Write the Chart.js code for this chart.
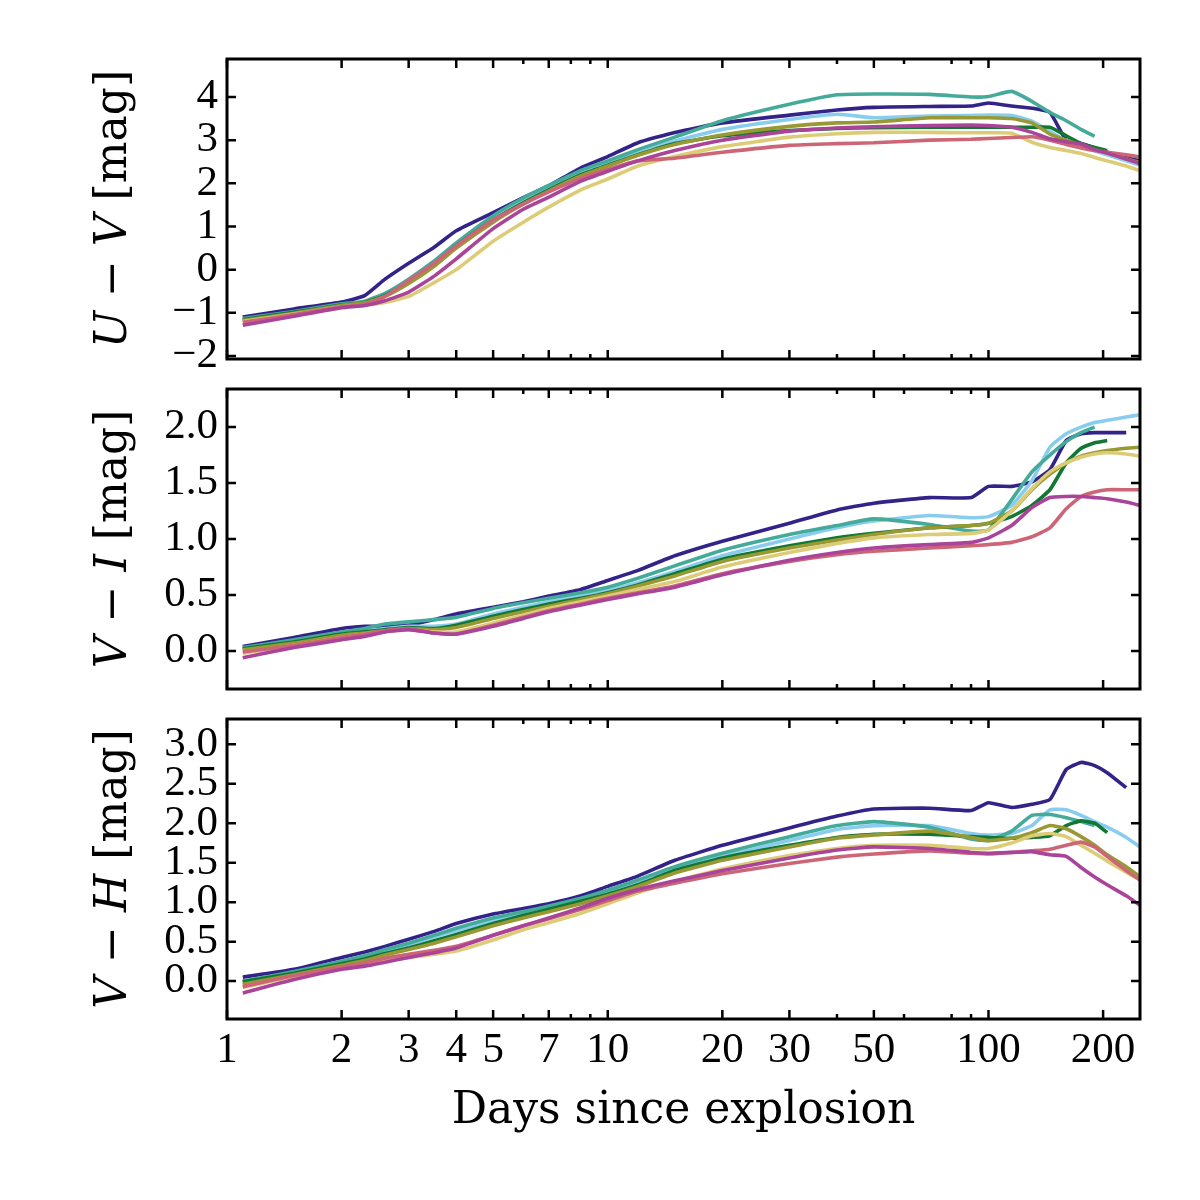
<!DOCTYPE html>
<html>
<head>
<meta charset="utf-8">
<script src="https://cdn.jsdelivr.net/npm/chart.js@4.4.1/dist/chart.umd.min.js"></script>
<style>
  html, body { margin: 0; padding: 0; background: #fff; }
  #wrap { position: relative; width: 1200px; height: 1200px; }
  #wrap canvas { position: absolute; left: 0; top: 0; }
</style>
</head>
<body>
<div id="wrap">
  <canvas id="uv" width="1200" height="1200"></canvas>
  <canvas id="vi" width="1200" height="1200"></canvas>
  <canvas id="vh" width="1200" height="1200"></canvas>
</div>
<script>
// Colour evolution of the models: U-V, V-I and V-H against days since explosion

// shared day grid (log x axis)
const days = [1.1, 1.5, 2, 2.3, 2.6, 3, 3.5, 4, 5, 6, 7, 8.5, 10, 12, 15, 20, 30, 40, 50, 70, 90, 100, 115, 130, 145, 160, 175, 190, 205, 230, 250];

const xMajor = [1, 2, 3, 4, 5, 7, 10, 20, 30, 50, 100, 200];
const xMinor = [6, 8, 9, 40, 60, 80, 90];

// one colour per model, drawn in this order (last on top)
const colors = ["#332288", "#88CCEE", "#44AA99", "#117733", "#999933", "#DDCC77", "#CC6677", "#AA4499"];

// U - V
const uvNavy   = [-1.10,-0.91,-0.75,-0.60,-0.22,0.15,0.52,0.90,1.32,1.67,1.94,2.36,2.62,2.94,3.18,3.40,3.58,3.70,3.76,3.78,3.79,3.86,3.79,3.74,3.64,3.00,2.92,2.82,2.72,2.60,2.52];
const uvLight  = [-1.17,-1.00,-0.82,-0.76,-0.60,-0.30,0.12,0.52,1.15,1.58,1.88,2.22,2.45,2.70,2.98,3.25,3.48,3.60,3.52,3.56,3.57,3.58,3.57,3.44,3.20,2.98,2.85,2.75,2.66,2.52,2.42];
const uvTeal   = [-1.13,-0.97,-0.79,-0.73,-0.55,-0.22,0.20,0.62,1.25,1.66,1.95,2.30,2.52,2.78,3.07,3.45,3.83,4.05,4.07,4.06,4.00,4.01,4.13,3.90,3.64,3.45,3.25,3.09,null,null,null];
const uvGreen  = [-1.16,-0.99,-0.82,-0.76,-0.60,-0.28,0.12,0.55,1.15,1.55,1.85,2.20,2.42,2.66,2.92,3.10,3.22,3.27,3.29,3.30,3.30,3.30,3.30,3.30,3.30,3.10,2.92,2.83,2.76,null,null];
const uvOlive  = [-1.18,-1.01,-0.83,-0.77,-0.62,-0.32,0.08,0.50,1.10,1.52,1.82,2.17,2.40,2.65,2.90,3.12,3.32,3.40,3.42,3.52,3.52,3.52,3.50,3.40,3.14,3.00,2.88,2.78,2.70,2.57,2.48];
const uvSand   = [-1.20,-1.03,-0.86,-0.82,-0.76,-0.62,-0.30,0.00,0.66,1.10,1.45,1.85,2.10,2.40,2.62,2.85,3.07,3.15,3.18,3.18,3.17,3.17,3.16,2.95,2.83,2.76,2.69,2.60,2.52,2.40,2.29];
const uvRose   = [-1.22,-1.04,-0.86,-0.80,-0.62,-0.25,0.15,0.55,1.15,1.52,1.80,2.12,2.32,2.52,2.58,2.72,2.88,2.92,2.94,3.00,3.02,3.04,3.06,3.08,3.00,2.90,2.82,2.76,2.72,2.66,2.61];
const uvPurple = [-1.29,-1.08,-0.88,-0.83,-0.72,-0.52,-0.15,0.25,0.95,1.40,1.68,2.05,2.28,2.52,2.76,3.00,3.21,3.28,3.31,3.34,3.35,3.34,3.30,3.18,3.03,2.96,2.91,2.78,2.70,2.56,2.46];

// V - I
const viNavy   = [0.04,0.12,0.20,0.22,0.22,0.23,0.28,0.33,0.39,0.44,0.49,0.55,0.63,0.72,0.85,0.98,1.14,1.26,1.32,1.37,1.37,1.47,1.47,1.51,1.62,1.88,1.94,1.95,1.95,1.95,null];
const viLight  = [0.02,0.09,0.16,0.18,0.20,0.22,0.22,0.24,0.33,0.39,0.44,0.49,0.54,0.61,0.71,0.85,1.00,1.10,1.16,1.21,1.19,1.20,1.30,1.52,1.82,1.94,2.00,2.04,2.06,2.09,2.11];
const viTeal   = [0.03,0.10,0.17,0.20,0.24,0.26,0.28,0.30,0.38,0.43,0.47,0.52,0.57,0.65,0.76,0.90,1.04,1.12,1.18,1.13,1.07,1.08,1.35,1.60,1.75,1.87,1.95,2.00,null,null,null];
const viGreen  = [0.02,0.08,0.15,0.17,0.19,0.21,0.20,0.23,0.31,0.37,0.42,0.47,0.52,0.59,0.69,0.82,0.94,1.01,1.05,1.10,1.12,1.14,1.20,1.30,1.44,1.68,1.81,1.86,1.88,null,null];
const viOlive  = [0.01,0.07,0.14,0.16,0.18,0.20,0.19,0.21,0.29,0.35,0.40,0.46,0.51,0.58,0.67,0.80,0.92,0.99,1.04,1.10,1.12,1.14,1.25,1.44,1.58,1.68,1.74,1.77,1.79,1.81,1.82];
const viSand   = [-0.02,0.05,0.12,0.15,0.17,0.19,0.17,0.17,0.25,0.32,0.38,0.44,0.49,0.55,0.62,0.75,0.88,0.96,1.01,1.04,1.05,1.08,1.25,1.45,1.60,1.68,1.73,1.76,1.77,1.76,1.74];
const viRose   = [-0.01,0.05,0.12,0.15,0.18,0.20,0.16,0.15,0.23,0.30,0.36,0.42,0.47,0.52,0.58,0.69,0.80,0.86,0.89,0.92,0.94,0.95,0.97,1.02,1.10,1.27,1.38,1.42,1.44,1.44,1.44];
const viPurple = [-0.06,0.03,0.10,0.13,0.17,0.19,0.16,0.15,0.22,0.29,0.35,0.41,0.46,0.51,0.57,0.68,0.81,0.88,0.92,0.95,0.97,1.01,1.12,1.28,1.37,1.38,1.38,1.37,1.36,1.33,1.30];

// V - H
const vhNavy   = [0.05,0.15,0.30,0.37,0.44,0.53,0.63,0.73,0.85,0.92,0.98,1.08,1.20,1.33,1.53,1.72,1.94,2.09,2.18,2.19,2.16,2.26,2.20,2.24,2.30,2.68,2.77,2.73,2.64,2.45,null];
const vhLight  = [-0.02,0.10,0.23,0.30,0.38,0.46,0.56,0.64,0.77,0.86,0.93,1.03,1.13,1.26,1.41,1.58,1.78,1.92,1.97,1.97,1.87,1.85,1.87,1.97,2.17,2.17,2.10,2.02,1.95,1.82,1.70];
const vhTeal   = [0.00,0.12,0.25,0.32,0.40,0.48,0.58,0.67,0.80,0.88,0.95,1.05,1.15,1.28,1.45,1.62,1.83,1.97,2.02,1.95,1.80,1.78,1.90,2.10,2.11,2.07,2.02,1.97,null,null,null];
const vhGreen  = [-0.01,0.10,0.22,0.28,0.35,0.42,0.51,0.59,0.73,0.83,0.91,1.01,1.10,1.22,1.40,1.56,1.72,1.82,1.86,1.86,1.83,1.82,1.81,1.82,1.84,1.97,2.03,2.00,1.88,null,null];
const vhOlive  = [-0.04,0.08,0.20,0.26,0.33,0.40,0.48,0.56,0.70,0.80,0.88,0.98,1.08,1.20,1.37,1.53,1.70,1.81,1.85,1.90,1.82,1.78,1.81,1.88,1.97,1.93,1.83,1.72,1.60,1.45,1.32];
const vhSand   = [-0.08,0.06,0.16,0.21,0.26,0.30,0.34,0.38,0.52,0.65,0.74,0.86,0.98,1.12,1.26,1.42,1.59,1.68,1.72,1.72,1.68,1.68,1.75,1.84,1.87,1.83,1.72,1.62,1.52,1.38,1.28];
const vhRose   = [-0.07,0.07,0.18,0.23,0.29,0.34,0.39,0.44,0.58,0.70,0.79,0.91,1.02,1.14,1.24,1.36,1.49,1.57,1.61,1.65,1.62,1.61,1.63,1.65,1.67,1.72,1.76,1.70,1.58,1.40,1.28];
const vhPurple = [-0.15,0.02,0.15,0.19,0.24,0.30,0.36,0.42,0.58,0.70,0.80,0.93,1.05,1.16,1.27,1.40,1.56,1.66,1.70,1.68,1.63,1.62,1.63,1.64,1.60,1.58,1.44,1.32,1.22,1.08,0.96];

// y tick values of each panel
const uvTicks = [-2, -1, 0, 1, 2, 3, 4];
const viTicks = [0, 0.5, 1, 1.5, 2];
const vhTicks = [0, 0.5, 1, 1.5, 2, 2.5, 3];

const tickFont = { family: "Liberation Serif", size: 43 };
const titleFamily = '"DejaVu Serif"';

// box frame, inward ticks on all four sides and the mixed italic y title
const frameTicks = {
  id: "frameTicks",
  afterDraw(chart, args, opts) {
    const { ctx, chartArea: a, scales } = chart;
    const x = scales.x, y = scales.y;
    ctx.save();
    ctx.strokeStyle = "#000";
    ctx.lineWidth = 2.5;
    ctx.beginPath();
    opts.yTicks.forEach((v) => {
      const py = y.getPixelForValue(v);
      ctx.moveTo(a.left, py); ctx.lineTo(a.left + 9, py);
      ctx.moveTo(a.right, py); ctx.lineTo(a.right - 9, py);
    });
    const xt = (v, len) => {
      const px = x.getPixelForValue(v);
      ctx.moveTo(px, a.top); ctx.lineTo(px, a.top + len);
      ctx.moveTo(px, a.bottom); ctx.lineTo(px, a.bottom - len);
    };
    xMajor.forEach((v) => xt(v, 9));
    xMinor.forEach((v) => xt(v, 5));
    ctx.stroke();
    ctx.lineWidth = 3;
    ctx.strokeRect(a.left, a.top, a.right - a.left, a.bottom - a.top);

    // y axis title, rotated, with italic band letters
    const parts = opts.title;
    const fontOf = (it) => (it ? "italic " : "") + "44px " + titleFamily;
    let total = 0;
    const widths = parts.map(([t, it]) => {
      ctx.font = fontOf(it);
      const w = ctx.measureText(t).width;
      total += w;
      return w;
    });
    ctx.translate(126, (a.top + a.bottom) / 2);
    ctx.rotate(-Math.PI / 2);
    ctx.fillStyle = "#000";
    ctx.textBaseline = "alphabetic";
    ctx.textAlign = "left";
    let pos = -total / 2;
    parts.forEach(([t, it], i) => {
      ctx.font = fontOf(it);
      ctx.fillText(t, pos, 0);
      pos += widths[i];
    });
    ctx.restore();
  },
};

function makePanel(id, series, yMin, yMax, yTicks, fmt, title, padTop, padBottom, isBottom) {
  return new Chart(document.getElementById(id), {
    type: "line",
    data: {
      datasets: series.map((vals, i) => ({
        data: days.map((d, k) => ({ x: d, y: vals[k] })),
        borderColor: colors[i],
        borderWidth: 3.6,
        pointRadius: 0,
        tension: 0.15,
        fill: false,
        spanGaps: false,
        borderJoinStyle: "round",
        order: series.length - i,
      })),
    },
    options: {
      responsive: false,
      animation: false,
      events: [],
      layout: { padding: { top: padTop, bottom: padBottom, left: 0, right: 60 } },
      plugins: {
        legend: { display: false },
        tooltip: { enabled: false },
        frameTicks: { yTicks: yTicks, title: title },
      },
      scales: {
        x: {
          type: "logarithmic",
          min: 1,
          max: 250,
          display: isBottom,
          grid: { display: false, drawTicks: false },
          border: { display: false },
          afterBuildTicks: (s) => { s.ticks = xMajor.map((v) => ({ value: v })); },
          afterFit: (s) => { if (isBottom) s.height = 181; },
          ticks: {
            autoSkip: false,
            maxRotation: 0,
            padding: 6,
            color: "#000",
            font: tickFont,
            callback: (v) => String(v),
          },
          title: {
            display: true,
            text: "Days since explosion",
            color: "#000",
            font: { family: "DejaVu Serif", size: 44 },
            padding: { top: 0, bottom: 62 },
          },
        },
        y: {
          min: yMin,
          max: yMax,
          grid: { display: false, drawTicks: false },
          border: { display: false },
          afterBuildTicks: (s) => { s.ticks = yTicks.map((v) => ({ value: v })); },
          afterFit: (s) => { s.width = 227; },
          ticks: {
            autoSkip: false,
            padding: 9,
            color: "#000",
            font: tickFont,
            callback: fmt,
          },
        },
      },
    },
    plugins: [frameTicks],
  });
}

const intFmt = (v) => (v < 0 ? "\u2212" + Math.abs(v) : String(v));
const decFmt = (v) => Number(v).toFixed(1);

makePanel("uv",
  [uvNavy, uvLight, uvTeal, uvGreen, uvOlive, uvSand, uvRose, uvPurple],
  -2.07, 4.88, uvTicks, intFmt,
  [["U", true], [" \u2212 ", false], ["V", true], [" [mag]", false]],
  59, 841, false);

makePanel("vi",
  [viNavy, viLight, viTeal, viGreen, viOlive, viSand, viRose, viPurple],
  -0.34, 2.34, viTicks, decFmt,
  [["V", true], [" \u2212 ", false], ["I", true], [" [mag]", false]],
  389, 511, false);

makePanel("vh",
  [vhNavy, vhLight, vhTeal, vhGreen, vhOlive, vhSand, vhRose, vhPurple],
  -0.48, 3.32, vhTicks, decFmt,
  [["V", true], [" \u2212 ", false], ["H", true], [" [mag]", false]],
  719, 0, true);
</script>
</body>
</html>
